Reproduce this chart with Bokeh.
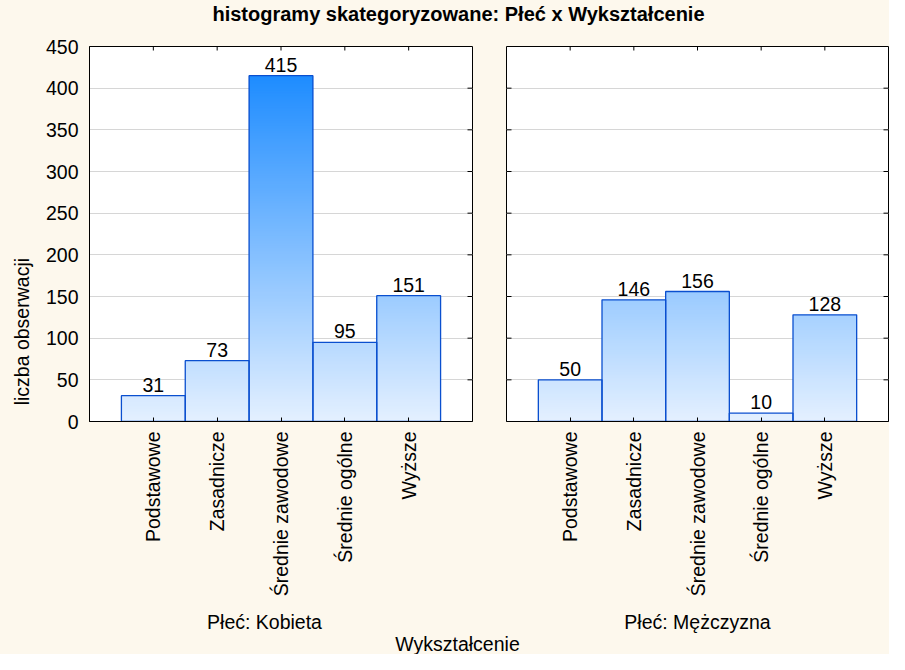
from math import pi
from bokeh.plotting import figure
from bokeh.layouts import column, row
from bokeh.models import Range1d, FixedTicker, LinearAxis, Grid
from bokeh.core.properties import value
from bokeh.embed import file_html
from bokeh.resources import INLINE

# ---------------- data ----------------
categories = ["Podstawowe", "Zasadnicze", "Średnie zawodowe", "Średnie ogólne", "Wyższe"]
kobieta = [31, 73, 415, 95, 151]
mezczyzna = [50, 146, 156, 10, 128]
y_ticks = [0, 50, 100, 150, 200, 250, 300, 350, 400, 450]
title_text = "histogramy skategoryzowane: Płeć x Wykształcenie"
panel_labels = ["Płeć: Kobieta", "Płeć: Mężczyzna"]
x_label = "Wykształcenie"
y_label = "liczba obserwacji"

# ---------------- style ----------------
FONT = "Liberation Sans"
FS = "19.5px"
BG = "#fdf8ed"
EDGE = "#0a4fcf"
GRID = "#d6d6d6"
C_LOW = (228, 240, 255)
C_HIGH = (30, 140, 255)
VMAX = max(kobieta + mezczyzna)
STEP = 2

FRAME_H = 375
ROW_TOP = 16
ROW_H = 576
TOP_H = 30
BOT_H = 654 - TOP_H - ROW_H


def grad_color(y):
    t = max(0.0, min(1.0, y / VMAX))
    r = round(C_LOW[0] + (C_HIGH[0] - C_LOW[0]) * t)
    g = round(C_LOW[1] + (C_HIGH[1] - C_LOW[1]) * t)
    b = round(C_LOW[2] + (C_HIGH[2] - C_LOW[2]) * t)
    return "#%02x%02x%02x" % (r, g, b)


def make_panel(values, show_y_labels, bl, br, fw):
    p = figure(frame_width=fw, frame_height=FRAME_H,
               min_border_left=bl, min_border_right=br,
               min_border_top=ROW_TOP, min_border_bottom=ROW_H - ROW_TOP - FRAME_H,
               x_range=Range1d(0, 6), y_range=Range1d(0, 450),
               x_axis_location=None, y_axis_location=None,
               toolbar_location=None, output_backend="svg")
    p.grid.visible = False
    p.background_fill_color = "white"
    p.border_fill_color = BG
    p.outline_line_color = "black"
    p.outline_line_width = 1

    xs = list(range(1, len(categories) + 1))
    ux = 6 / fw          # data units per pixel (x)
    uy = 450 / FRAME_H   # data units per pixel (y)

    grid = Grid(dimension=1, ticker=FixedTicker(ticks=y_ticks[1:-1]),
                grid_line_color=GRID, grid_line_width=1)
    p.add_layout(grid)

    # gradient slices (overlapping from the bottom, tallest first)
    sx, stop, scol = [], [], []
    for x, v in zip(xs, values):
        t = v
        while t > 0:
            sx.append(x)
            stop.append(t)
            scol.append(grad_color(t - STEP / 2))
            t -= STEP
    order = sorted(range(len(stop)), key=lambda i: -stop[i])
    p.vbar(x=[sx[i] for i in order], top=[stop[i] for i in order], bottom=0,
           width=1, fill_color=[scol[i] for i in order], line_color=None)

    # bar outlines
    p.vbar(x=xs, top=values, bottom=0, width=1, fill_color=None,
           line_color=EDGE, line_width=1.3)

    # value labels (a few pixels above each bar)
    p.text(x=xs, y=[v + 4 * uy for v in values], text=[str(v) for v in values],
           text_align="center", text_baseline="bottom",
           text_font=value(FONT), text_font_size=value(FS), text_color="black")

    # inward tick marks: top (category centres), right and (right panel) left
    inner = y_ticks[1:-1]
    p.segment(x0=xs, y0=[450] * len(xs), x1=xs, y1=[450 - 4 * uy] * len(xs),
              line_color="black", line_width=1)
    p.segment(x0=[6] * len(inner), y0=inner, x1=[6 - 5 * ux] * len(inner), y1=inner,
              line_color="black", line_width=1)
    if not show_y_labels:
        p.segment(x0=[0] * len(inner), y0=inner, x1=[5 * ux] * len(inner), y1=inner,
                  line_color="black", line_width=1)

    # bottom axis with category names
    bx = LinearAxis(ticker=FixedTicker(ticks=xs))
    bx.major_label_overrides = {x: c for x, c in zip(xs, categories)}
    bx.major_label_orientation = pi / 2
    bx.major_tick_in = 4
    bx.major_tick_out = 0
    bx.minor_tick_in = 0
    bx.minor_tick_out = 0
    bx.major_label_standoff = 10
    bx.major_label_text_font = FONT
    bx.major_label_text_font_size = FS
    bx.major_label_text_color = "black"
    bx.axis_line_color = "black"
    p.add_layout(bx, "below")

    if show_y_labels:
        ly = LinearAxis(ticker=FixedTicker(ticks=y_ticks))
        ly.major_tick_in = 0
        ly.major_tick_out = 0
        ly.minor_tick_in = 0
        ly.minor_tick_out = 0
        ly.major_label_standoff = 11
        ly.major_label_text_font = FONT
        ly.major_label_text_font_size = FS
        ly.major_label_text_color = "black"
        ly.axis_line_color = "black"
        p.add_layout(ly, "left")
    return p


def blank(w, h):
    f = figure(width=w, height=h, x_range=Range1d(0, w), y_range=Range1d(0, h),
               x_axis_location=None, y_axis_location=None, min_border=0,
               toolbar_location=None, output_backend="svg")
    f.grid.visible = False
    f.background_fill_color = BG
    f.border_fill_color = BG
    f.outline_line_color = None
    return f


def put_text(f, xs, ys, texts, bold=False, angle=0.0, baseline="alphabetic", size=FS):
    f.text(x=xs, y=ys, text=texts, text_align="center", text_baseline=baseline,
           angle=angle, text_font=value(FONT), text_font_size=value(size),
           text_font_style="bold" if bold else "normal", text_color="black")


# title strip
top = blank(889, TOP_H)
put_text(top, [458], [17], [title_text], bold=True, size="20px")

# y-label strip (left of the left panel)
ylab = blank(40, ROW_H)
put_text(ylab, [21.5], [138], [y_label], angle=pi / 2, baseline="middle")

left = make_panel(kobieta, True, 49, 17, 383)
right = make_panel(mezczyzna, False, 17, 1, 382)

# bottom strip with panel labels and x-axis title
bottom = blank(889, BOT_H)
put_text(bottom, [264, 697], [33, 33], panel_labels)
put_text(bottom, [457], [11], [x_label])

mid = row(ylab, left, right, styles={"background-color": BG})
layout = column(top, mid, bottom, styles={"background-color": BG})

open("out.html", "w").write(file_html(layout, INLINE))
